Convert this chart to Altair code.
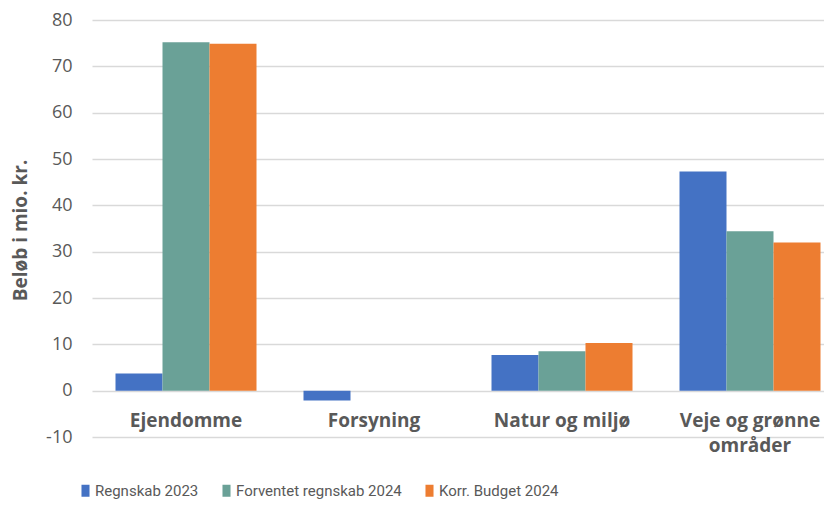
import altair as alt
import pandas as pd

categories = ["Ejendomme", "Forsyning", "Natur og miljø", "Veje og grønne områder"]
series = ["Regnskab 2023", "Forventet regnskab 2024", "Korr. Budget 2024"]
regnskab_2023 = [3.7, -2.1, 7.7, 47.3]
forventet_2024 = [75.2, 0.0, 8.5, 34.4]
korr_budget_2024 = [74.9, 0.0, 10.3, 32.0]
colors = ["#4472C4", "#6AA197", "#ED7D31"]
y_ticks = [-10, 0, 10, 20, 30, 40, 50, 60, 70, 80]

rows = []
for i, c in enumerate(categories):
    for s, vals in zip(series, [regnskab_2023, forventet_2024, korr_budget_2024]):
        rows.append({"Kategori": c, "Serie": s, "Beløb": vals[i]})
df = pd.DataFrame(rows)

txt = "#595959"

chart = alt.Chart(df).mark_bar().encode(
    x=alt.X(
        "Kategori:N",
        sort=categories,
        scale=alt.Scale(range=[0, 752], paddingInner=0.25, paddingOuter=0.125),
        axis=alt.Axis(
            title=None, orient="bottom", offset=-46, domain=False, ticks=False, tickSize=0,
            labelPadding=20, labelFont="Open Sans", labelFontWeight="bold", labelFontSize=19,
            labelColor=txt, labelAngle=0, labelLineHeight=25, grid=False,
            labelExpr="datum.label == 'Veje og grønne områder' ? ['Veje og grønne', 'områder'] : datum.label",
        ),
    ),
    xOffset=alt.XOffset("Serie:N", sort=series, scale=alt.Scale(paddingInner=0, paddingOuter=0)),
    y=alt.Y(
        "Beløb:Q",
        scale=alt.Scale(domain=[-10, 80], nice=False, zero=False),
        axis=alt.Axis(
            values=y_ticks, title="Beløb i mio. kr.", domain=False, ticks=False,
            labelPadding=20, labelFont="Open Sans", labelFontSize=18, labelColor=txt,
            labelExpr="datum.value + ''",
            grid=True, gridColor="#d9d9d9", gridWidth=1.3,
            titleFont="Open Sans", titleFontSize=19, titleFontWeight="bold", titleColor=txt,
            titleX=-72, titleY=210, titleAngle=270, titleAlign="center", titleBaseline="middle",
        ),
    ),
    color=alt.Color(
        "Serie:N",
        sort=series,
        scale=alt.Scale(domain=series, range=colors),
        legend=alt.Legend(
            title=None, orient="none", legendX=-14, legendY=463, direction="horizontal",
            symbolType="M-0.67,-1L0.67,-1L0.67,1L-0.67,1Z", symbolSize=144, symbolStrokeWidth=0,
            symbolOpacity=1, labelLimit=400,
            labelFont="Roboto",
            labelFontSize=15, labelColor=txt, columnPadding=20, labelOffset=2,
        ),
    ),
).properties(
    width=732,
    height=417,
    autosize=alt.AutoSizeParams(type="none"),
    padding={"left": 84, "top": 12, "right": 0, "bottom": 63},
).configure_view(stroke=None)

chart.save("out.html", embed_options={"renderer": "svg", "actions": False})
